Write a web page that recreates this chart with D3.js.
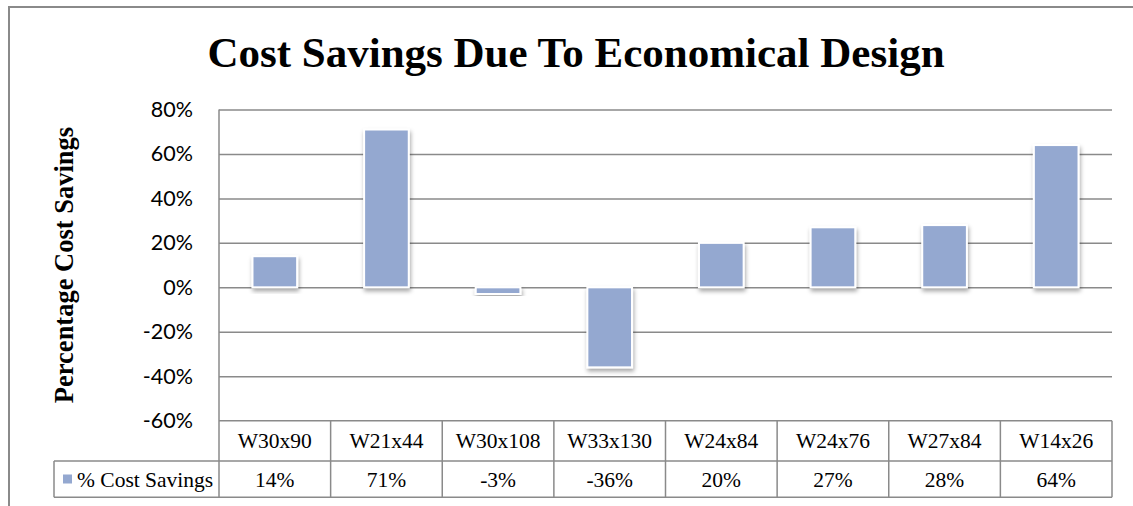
<!DOCTYPE html>
<html>
<head>
<meta charset="utf-8">
<script src="https://cdn.jsdelivr.net/npm/d3@7"></script>
<style>
  body { margin: 0; background: #fff; }
  svg { display: block; }
</style>
</head>
<body>
<div id="chart"></div>
<script>
// Chart data
var categories = ["W30x90", "W21x44", "W30x108", "W33x130", "W24x84", "W24x76", "W27x84", "W14x26"];
var savings = [0.14, 0.71, -0.03, -0.36, 0.20, 0.27, 0.28, 0.64];
var tickValues = [-0.6, -0.4, -0.2, 0, 0.2, 0.4, 0.6, 0.8];
var seriesName = "% Cost Savings";
var titleText = "Cost Savings Due To Economical Design";
var yLabel = "Percentage Cost Savings";

var width = 1133, height = 506;
var plot = {left: 219, right: 1112, top: 109.5, bottom: 420.7};
var rowH = [420.7, 461, 497.3];
var legendLeft = 54;
var lineColor = "#8a8a8a";
var barColor = "#94a8d0";

// Percent format with a plain hyphen for negatives
var pct = d3.formatLocale({decimal: ".", thousands: ",", grouping: [3], currency: ["", ""], minus: "-"}).format(".0%");

var svg = d3.select("#chart").append("svg")
    .attr("width", width)
    .attr("height", height);

// Drop shadow for the bars
var defs = svg.append("defs");
var filter = defs.append("filter")
    .attr("id", "shadow")
    .attr("x", "-20%").attr("y", "-20%")
    .attr("width", "140%").attr("height", "140%");
filter.append("feDropShadow")
    .attr("dx", 1).attr("dy", 3)
    .attr("stdDeviation", 2)
    .attr("flood-color", "#000")
    .attr("flood-opacity", 0.35);

// Outer chart border (runs off the image right and bottom)
svg.append("rect")
    .attr("x", 9).attr("y", 7)
    .attr("width", 1140).attr("height", 520)
    .attr("fill", "none")
    .attr("stroke", lineColor)
    .attr("stroke-width", 2);

// Scales
var y = d3.scaleLinear()
    .domain([-0.6, 0.8])
    .range([plot.bottom, plot.top]);

var cell = d3.scaleBand()
    .domain(categories)
    .range([plot.left, plot.right]);

var x = d3.scaleBand()
    .domain(categories)
    .range([plot.left, plot.right])
    .paddingInner(0.6)
    .paddingOuter(0.3);

// Gridlines
svg.append("g")
    .attr("transform", "translate(" + plot.left + ",0)")
    .call(d3.axisLeft(y).tickValues(tickValues.filter(function(d) { return d > -0.6; }))
        .tickSize(-(plot.right - plot.left)).tickFormat(""))
    .call(function(g) { g.select(".domain").remove(); })
    .selectAll("line")
    .attr("stroke", lineColor)
    .attr("stroke-width", 1.5);

// Y tick labels
svg.append("g")
    .attr("transform", "translate(193,0)")
    .call(d3.axisLeft(y).tickValues(tickValues).tickSize(0).tickPadding(0)
        .tickFormat(pct))
    .call(function(g) { g.select(".domain").remove(); })
    .selectAll("text")
    .attr("font-family", "Lato, 'Open Sans', sans-serif")
    .attr("font-size", "21.5px")
    .attr("fill", "#000");

// Bars
svg.selectAll(".bar")
    .data(savings)
    .enter().append("rect")
    .attr("class", "bar")
    .attr("x", function(d, i) { return x(categories[i]); })
    .attr("width", x.bandwidth())
    .attr("y", function(d) { return y(Math.max(0, d)); })
    .attr("height", function(d) { return Math.abs(y(d) - y(0)); })
    .attr("fill", barColor)
    .attr("stroke", "#fff")
    .attr("stroke-width", 2)
    .attr("filter", "url(#shadow)");

// Data table
var table = svg.append("g")
    .attr("stroke", lineColor)
    .attr("stroke-width", 1.5)
    .attr("fill", "none");

// Horizontal table lines
table.append("line")
    .attr("x1", plot.left).attr("x2", plot.right)
    .attr("y1", rowH[0]).attr("y2", rowH[0]);
table.append("line")
    .attr("x1", legendLeft).attr("x2", plot.right)
    .attr("y1", rowH[1]).attr("y2", rowH[1]);
table.append("line")
    .attr("x1", legendLeft).attr("x2", plot.right)
    .attr("y1", rowH[2]).attr("y2", rowH[2]);

// Vertical axis line and table column lines
table.append("line")
    .attr("x1", plot.left).attr("x2", plot.left)
    .attr("y1", plot.top).attr("y2", rowH[2]);
table.append("line")
    .attr("x1", legendLeft).attr("x2", legendLeft)
    .attr("y1", rowH[1]).attr("y2", rowH[2]);
table.selectAll(".col")
    .data(categories)
    .enter().append("line")
    .attr("class", "col")
    .attr("x1", function(d) { return cell(d) + cell.bandwidth(); })
    .attr("x2", function(d) { return cell(d) + cell.bandwidth(); })
    .attr("y1", rowH[0]).attr("y2", rowH[2]);

// Category labels
svg.selectAll(".cat")
    .data(categories)
    .enter().append("text")
    .attr("class", "cat")
    .attr("x", function(d) { return cell(d) + cell.bandwidth() / 2; })
    .attr("y", (rowH[0] + rowH[1]) / 2)
    .attr("dy", "0.35em")
    .attr("text-anchor", "middle")
    .attr("font-family", "'Liberation Serif', 'Times New Roman', serif")
    .attr("font-size", "21.5px")
    .text(function(d) { return d; });

// Value labels
svg.selectAll(".val")
    .data(savings)
    .enter().append("text")
    .attr("class", "val")
    .attr("x", function(d, i) { return cell(categories[i]) + cell.bandwidth() / 2; })
    .attr("y", (rowH[1] + rowH[2]) / 2)
    .attr("dy", "0.35em")
    .attr("text-anchor", "middle")
    .attr("font-family", "'Liberation Serif', 'Times New Roman', serif")
    .attr("font-size", "21.5px")
    .text(function(d) { return pct(d); });

// Legend key in table
svg.append("rect")
    .attr("x", 63).attr("y", 474.5)
    .attr("width", 9).attr("height", 9)
    .attr("fill", barColor);
svg.append("text")
    .attr("x", 77)
    .attr("y", (rowH[1] + rowH[2]) / 2)
    .attr("dy", "0.35em")
    .attr("font-family", "'Liberation Serif', 'Times New Roman', serif")
    .attr("font-size", "21.5px")
    .text(seriesName);

// Title
svg.append("text")
    .attr("x", 576)
    .attr("y", 67)
    .attr("text-anchor", "middle")
    .attr("font-family", "'Liberation Serif', 'Times New Roman', serif")
    .attr("font-weight", "bold")
    .attr("font-size", "43px")
    .text(titleText);

// Y axis label
svg.append("text")
    .attr("transform", "translate(73,265) rotate(-90)")
    .attr("text-anchor", "middle")
    .attr("font-family", "'Liberation Serif', 'Times New Roman', serif")
    .attr("font-weight", "bold")
    .attr("font-size", "26.5px")
    .text(yLabel);
</script>
</body>
</html>
